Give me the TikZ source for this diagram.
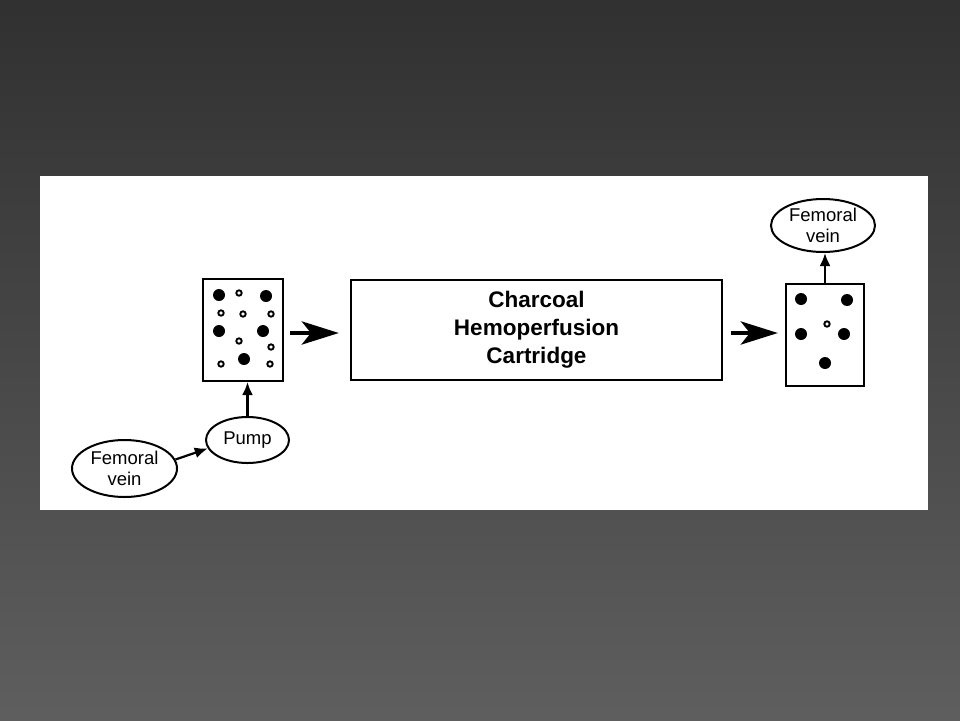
\documentclass[tikz,border=0pt]{standalone}
\usepackage{fontspec}
\setmainfont{Liberation Sans}
\usetikzlibrary{shapes.geometric,arrows.meta,calc}
\begin{document}
\begin{tikzpicture}[x=1pt,y=-1pt,
  boxed/.style={draw, line width=2.2pt, inner sep=0pt, rectangle},
  oval/.style={draw, ellipse, line width=2pt, inner xsep=0pt, inner ysep=-3pt, align=center,
     font=\fontsize{18.5}{21}\selectfont},
  thinarrow/.style={line width=2.2pt, -{Latex[length=13pt,width=11pt]}},
  bigarrow/.style={line width=4.5pt, -{Stealth[length=37pt,width=23pt,inset=9pt]}},
  bigdot/.style={fill=black},
  smalldot/.style={draw=black, line width=1.9pt, fill=white}]
% background
\shade[top color=black!81, bottom color=black!63] (0,0) rectangle (960,720);
\fill[white] (40,176) rectangle (928,510);
\useasboundingbox (0,0) rectangle (960,720);
% nodes
\node[boxed, minimum width=80pt, minimum height=102pt] (lbox) at (243,330) {};
\node[boxed, minimum width=371pt, minimum height=100pt, align=center,
      font=\fontsize{22.5}{28}\selectfont\bfseries] (cart) at (536.5,330)
      {Charcoal\\Hemoperfusion\\Cartridge};
\node[boxed, minimum width=78pt, minimum height=102pt] (rbox) at (825,335) {};
\node[oval, minimum width=104pt, minimum height=53pt] (vtop) at (823,225.5) {Femoral\\vein};
\node[oval, minimum width=83pt, minimum height=46pt] (pump) at (247.5,440) {Pump};
\node[oval, minimum width=105pt, minimum height=57pt] (vbot) at (124.5,468.5) {Femoral\\vein};
% dots in left box
\foreach \x/\y in {219/295,266/296,219/331,263/331,244/359}
  \fill[bigdot] (\x,\y) circle[radius=6pt];
\foreach \x/\y in {239/293,221/313,243/314,271/314,239/341,271/347,221/364,270/364}
  \draw[smalldot] (\x,\y) circle[radius=2.7pt];
% dots in right box
\foreach \x/\y in {801/299,847/300,801/334,844/334,825/363}
  \fill[bigdot] (\x,\y) circle[radius=6pt];
\draw[smalldot] (827,324) circle[radius=2.7pt];
% connectors
\draw[thinarrow] (vbot.10) -- (pump.192);
\draw[thinarrow] (pump.north) -- (pump.north |- lbox.south);
\draw[bigarrow, shorten <=6pt, shorten >=11pt] ($(lbox.east)+(0,3)$) -- ($(lbox.east -| cart.west)+(0,3)$);
\draw[bigarrow, shorten <=8pt, shorten >=7pt] ($(cart.east)+(0,3)$) -- ($(cart.east -| rbox.west)+(0,3)$);
\draw[thinarrow] (rbox.north) -- (rbox.north |- vtop.south);
\end{tikzpicture}
\end{document}
